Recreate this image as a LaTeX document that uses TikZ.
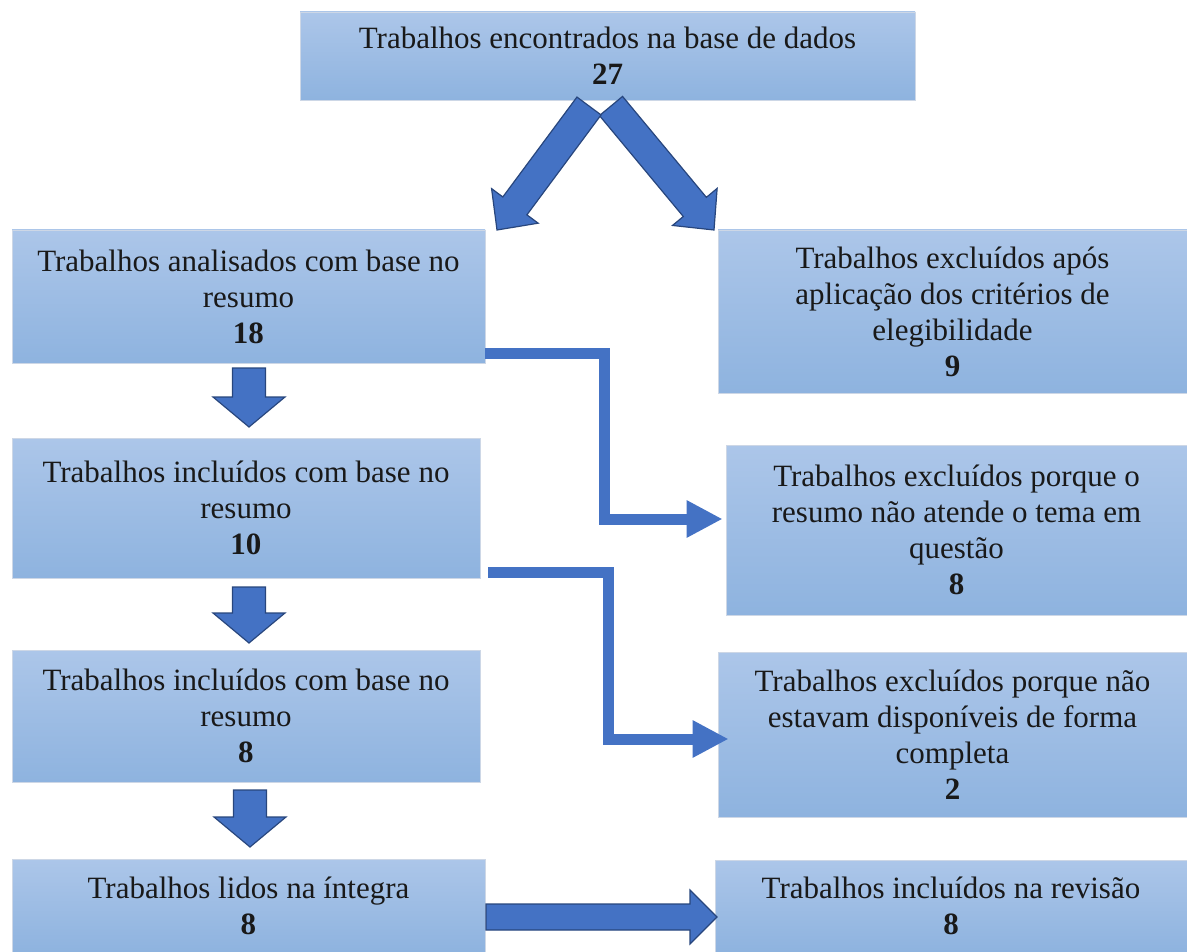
\documentclass[tikz,border=0pt]{standalone}
\usepackage{fontspec}
\setmainfont{Liberation Serif}
\usetikzlibrary{calc,arrows.meta}
\definecolor{boxtop}{RGB}{172,198,233}
\definecolor{boxbot}{RGB}{142,179,223}
\definecolor{arrowblue}{RGB}{68,114,196}
\definecolor{arrowedge}{RGB}{40,70,125}
\definecolor{boxedge}{RGB}{205,215,230}
\definecolor{txt}{RGB}{25,25,25}
\tikzset{
  box/.style={rectangle, top color=boxtop, bottom color=boxbot, draw=boxedge,
    line width=0.8pt, align=center, inner sep=0pt,
    font=\fontsize{31}{36}\selectfont, text=txt},
  conn/.style={draw=arrowblue, line width=11pt, line join=miter,
    -{Triangle[length=36pt,width=35pt]}},
  blk/.style={fill=arrowblue, draw=arrowedge, line width=1.2pt, line join=miter},
}
% start, end, shaft half width, head half width, head length
\newcommand{\blockarrow}[5]{%
  \coordinate (#1-h) at ($(#2)!#5!(#1)$);
  \path[blk] ($(#1)!#3!90:(#2)$) -- ($(#1-h)!#3!90:(#2)$) -- ($(#1-h)!#4!90:(#2)$)
    -- (#2) -- ($(#1-h)!#4!-90:(#2)$) -- ($(#1-h)!#3!-90:(#2)$)
    -- ($(#1)!#3!-90:(#2)$) -- cycle;
}
\begin{document}
\begin{tikzpicture}[x=1pt,y=-1pt]
\useasboundingbox (0,0) rectangle (1187,952);

\node[box, minimum width=615pt, minimum height=88pt] (top) at (607.5,56)
  {Trabalhos encontrados na base de dados\\\textbf{27}};
\node[box, minimum width=473pt, minimum height=133pt] (l1) at (248.5,296.5)
  {Trabalhos analisados com base no\\resumo\\\textbf{18}};
\node[box, minimum width=469pt, minimum height=163pt] (r1) at (952.5,311.5)
  {Trabalhos excluídos após\\aplicação dos critérios de\\elegibilidade\\\textbf{9}};
\node[box, minimum width=468pt, minimum height=140pt] (l2) at (246,508)
  {Trabalhos incluídos com base no\\resumo\\\textbf{10}};
\node[box, minimum width=461pt, minimum height=170pt] (r2) at (956.5,530)
  {Trabalhos excluídos porque o\\resumo não atende o tema em\\questão\\\textbf{8}};
\node[box, minimum width=468pt, minimum height=132pt] (l3) at (246,716)
  {Trabalhos incluídos com base no\\resumo\\\textbf{8}};
\node[box, minimum width=469pt, minimum height=165pt] (r3) at (952.5,734.5)
  {Trabalhos excluídos porque não\\estavam disponíveis de forma\\completa\\\textbf{2}};
\node[box, minimum width=473pt, minimum height=93pt] (l4) at (248.5,905.5)
  {Trabalhos lidos na íntegra\\\textbf{8}};
\node[box, minimum width=472pt, minimum height=92pt] (r4) at (951,906)
  {Trabalhos incluídos na revisão\\\textbf{8}};

% block arrow end points
\coordinate (rs) at (611,106);  \coordinate (re) at (714,230);
\coordinate (ls) at (589,106);  \coordinate (le) at (497,230);
\coordinate (d1s) at (249,368); \coordinate (d1e) at (249,427);
\coordinate (d2s) at (249,587); \coordinate (d2e) at (249,643);
\coordinate (d3s) at (250,790); \coordinate (d3e) at (250,847);
\coordinate (bs) at (486,917);  \coordinate (be) at (717,917);

\blockarrow{rs}{re}{15pt}{29pt}{30pt}
\blockarrow{ls}{le}{15pt}{29pt}{30pt}
\blockarrow{d1s}{d1e}{16.5pt}{36pt}{30pt}
\blockarrow{d2s}{d2e}{16.5pt}{36pt}{30pt}
\blockarrow{d3s}{d3e}{16.5pt}{36pt}{30pt}
\blockarrow{bs}{be}{13pt}{27pt}{27pt}

% elbow connectors
\draw[conn] ([yshift=10pt]l1.south east) -- ++(119,0) |- ([xshift=-3pt,yshift=11pt]r2.west);
\draw[conn] ([xshift=8pt,yshift=6pt]l2.south east) -- ++(120,0) |- ([xshift=11pt,yshift=-4.5pt]r3.west);
\end{tikzpicture}
\end{document}
